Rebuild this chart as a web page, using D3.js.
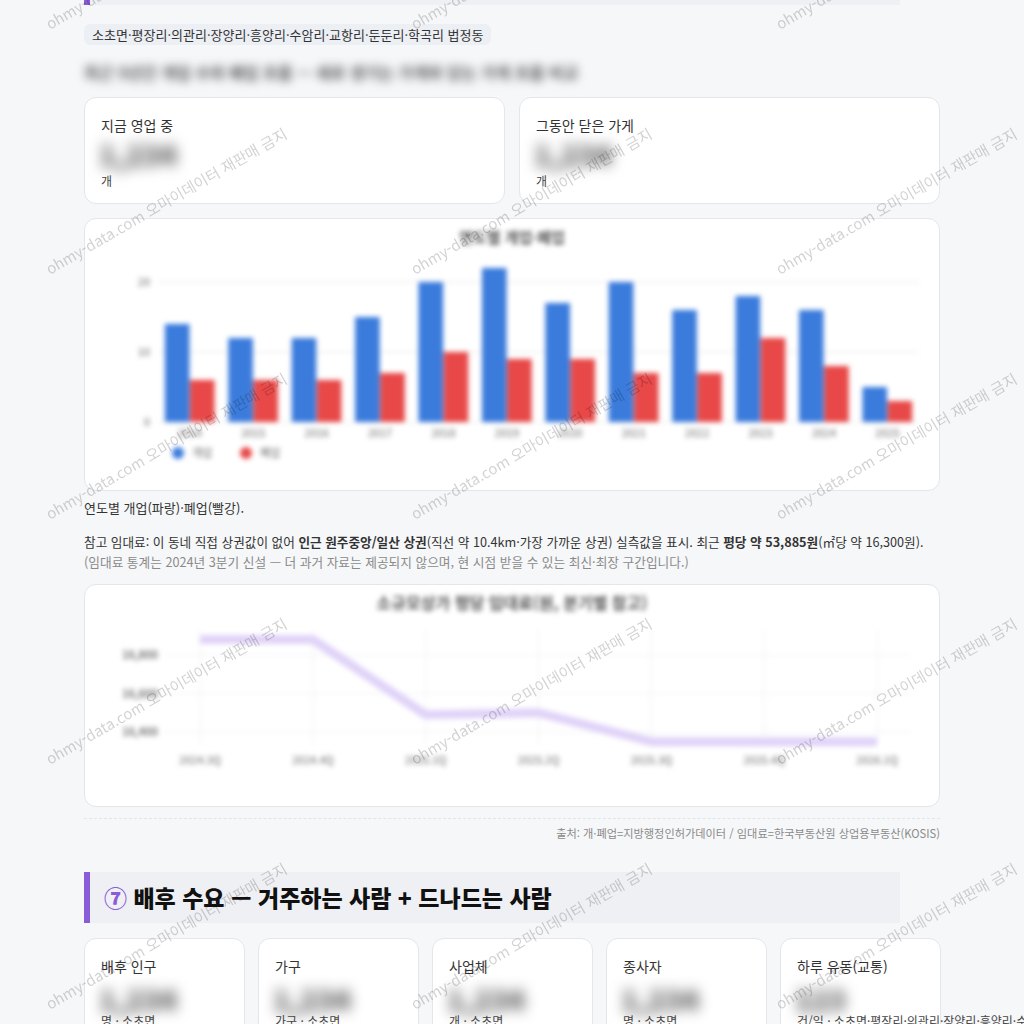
<!DOCTYPE html>
<html lang="ko">
<head>
<meta charset="utf-8">
<script src="https://cdn.jsdelivr.net/npm/d3@7"></script>
<style>
  body { margin: 0; width: 1024px; height: 1024px; overflow: hidden; background: #f6f7f9;
         font-family: "Noto Sans CJK KR", "Noto Sans", sans-serif; color: #333; position: relative; }
  .abs { position: absolute; }
  .card { position: absolute; background: #fff; border: 1px solid #e3e6eb; border-radius: 12px; box-sizing: border-box; }
  .lbl { position: absolute; font-size: 14px; color: #333; }
  .unit { position: absolute; font-size: 12px; color: #444; white-space: nowrap; }
  .big { position: absolute; font-size: 28px; font-weight: 800; color: #555; filter: blur(7px); }
</style>
</head>
<body>
<div id="page"></div>
<script>
// ---- data ----
const years = ["2014","2015","2016","2017","2018","2019","2020","2021","2022","2023","2024","2025"];
const opened = [14, 12, 12, 15, 20, 22, 17, 20, 16, 18, 16, 5];
const closed = [6, 6, 6, 7, 10, 9, 9, 7, 7, 12, 8, 3];
const barTicks = [0, 10, 20];

const quarters = ["2024.3Q","2024.4Q","2025.1Q","2025.2Q","2025.3Q","2025.4Q","2026.1Q"];
const rentPerM2 = [16880, 16880, 16490, 16500, 16350, 16350, 16350];
const rentTicks = [16400, 16600, 16800];

const dongs = "소초면·평장리·의관리·장양리·흥양리·수암리·교항리·둔둔리·학곡리 법정동";
const topCards = ["지금 영업 중", "그동안 닫은 가게"];
const demandCards = ["배후 인구", "가구", "사업체", "종사자", "하루 유동(교통)"];
const demandUnits = ["명 · 소초면", "가구 · 소초면", "개 · 소초면", "명 · 소초면",
                     "건/일 · 소초면·평장리·의관리·장양리·흥양리·수암리"];

const page = d3.select("#page");

// previous section heading remnant
page.append("div").attr("class", "abs")
  .style("left", "84px").style("top", "-40px").style("width", "810px").style("height", "45px")
  .style("background", "#eef0f4").style("border-left", "6px solid #8a5cd8");

page.append("div").attr("class", "abs")
  .style("left", "84px").style("top", "24px").style("padding", "0 8px").style("height", "21px")
  .style("line-height", "21px").style("background", "#eceff4").style("border-radius", "6px")
  .style("font-size", "13px").style("color", "#333").text(dongs);

page.append("div").attr("class", "abs")
  .style("left", "84px").style("top", "60px").style("font-size", "16px").style("font-weight", "700")
  .style("color", "#555").style("filter", "blur(5px)").style("white-space", "nowrap")
  .text("최근 5년간 개업 수와 폐업 흐름 — 새로 생기는 가게와 닫는 가게 흐름 비교");

// top cards
topCards.forEach((t, i) => {
  const c = page.append("div").attr("class", "card")
    .style("left", (84 + i * 435) + "px").style("top", "97px")
    .style("width", "421px").style("height", "107px");
  c.append("div").attr("class", "lbl").style("left", "16px").style("top", "17px").text(t);
  c.append("div").attr("class", "big").style("left", "14px").style("top", "36px").text("1,234");
  c.append("div").attr("class", "unit").style("left", "16px").style("top", "74px").text("개");
});

// ---- bar chart ----
const bc = page.append("div").attr("class", "card")
  .style("left", "84px").style("top", "218px").style("width", "856px").style("height", "273px");
const bsvg = bc.append("svg").attr("width", 856).attr("height", 273)
  .style("position", "absolute").style("left", "-1px").style("top", "-1px");
const bg = bsvg.append("g").attr("transform", "translate(-84,-218)").style("filter", "blur(2.5px)");

const x0 = d3.scaleBand().domain(years).range([158, 919]).paddingInner(0.2).paddingOuter(0.1);
const x1 = d3.scaleBand().domain(["o", "c"]).range([0, x0.bandwidth()]).padding(0.02);
const yb = d3.scaleLinear().domain([0, 20]).range([422, 282]);

bg.append("text").attr("x", 512).attr("y", 243).attr("text-anchor", "middle")
  .attr("font-size", 15).attr("font-weight", 700).attr("fill", "#555").text("연도별 개업·폐업");

bg.selectAll(".grid").data(barTicks).join("line")
  .attr("x1", 158).attr("x2", 919).attr("y1", d => yb(d)).attr("y2", d => yb(d))
  .attr("stroke", "#e8e8e8");
bg.selectAll(".ytk").data(barTicks).join("text")
  .attr("x", 150).attr("y", d => yb(d) + 4).attr("text-anchor", "end")
  .attr("font-size", 11).attr("fill", "#666").text(d => d);

const grp = bg.selectAll(".yr").data(years).join("g")
  .attr("transform", d => `translate(${x0(d)},0)`);
grp.append("rect").attr("x", x1("o")).attr("width", x1.bandwidth())
  .attr("y", (d, i) => yb(opened[i])).attr("height", (d, i) => yb(0) - yb(opened[i]))
  .attr("fill", "#3a7bdc");
grp.append("rect").attr("x", x1("c")).attr("width", x1.bandwidth())
  .attr("y", (d, i) => yb(closed[i])).attr("height", (d, i) => yb(0) - yb(closed[i]))
  .attr("fill", "#e84848");
grp.append("text").attr("x", x0.bandwidth() / 2).attr("y", 437).attr("text-anchor", "middle")
  .attr("font-size", 11).attr("fill", "#666").text(d => d);

const legend = [{k: "개업", c: "#3a7bdc", x: 178}, {k: "폐업", c: "#e84848", x: 246}];
legend.forEach(l => {
  bg.append("circle").attr("cx", l.x).attr("cy", 453).attr("r", 6).attr("fill", l.c);
  bg.append("text").attr("x", l.x + 14).attr("y", 457).attr("font-size", 11).attr("fill", "#666").text(l.k);
});

// captions
page.append("div").attr("class", "abs").style("left", "84px").style("top", "498px")
  .style("font-size", "13px").text("연도별 개업(파랑)·폐업(빨강).");
page.append("div").attr("class", "abs").style("left", "84px").style("top", "532px")
  .style("font-size", "12.65px").style("white-space", "nowrap")
  .html("참고 임대료: 이 동네 직접 상권값이 없어 <b>인근 원주중앙/일산 상권</b>(직선 약 10.4km·가장 가까운 상권) 실측값을 표시. 최근 <b>평당 약 53,885원</b>(㎡당 약 16,300원).");
page.append("div").attr("class", "abs").style("left", "84px").style("top", "552px")
  .style("font-size", "12.7px").style("color", "#8a8a8a").style("white-space", "nowrap")
  .text("(임대료 통계는 2024년 3분기 신설 — 더 과거 자료는 제공되지 않으며, 현 시점 받을 수 있는 최신·최장 구간입니다.)");

// ---- line chart ----
const lc = page.append("div").attr("class", "card")
  .style("left", "84px").style("top", "584px").style("width", "856px").style("height", "223px");
const lsvg = lc.append("svg").attr("width", 856).attr("height", 223)
  .style("position", "absolute").style("left", "-1px").style("top", "-1px");
const lg = lsvg.append("g").attr("transform", "translate(-84,-584)").style("filter", "blur(2.5px)");

const xl = d3.scalePoint().domain(quarters).range([200, 877]);
const yl = d3.scaleLinear().domain([16400, 16800]).range([732, 655]);

lg.append("text").attr("x", 512).attr("y", 609).attr("text-anchor", "middle")
  .attr("font-size", 16).attr("font-weight", 700).attr("fill", "#555")
  .text("소규모상가 평당 임대료(원, 분기별 참고)");

lg.selectAll(".vg").data(quarters).join("line")
  .attr("x1", d => xl(d)).attr("x2", d => xl(d)).attr("y1", 630).attr("y2", 745)
  .attr("stroke", "#f0f0f0");
lg.selectAll(".hg").data(rentTicks).join("line")
  .attr("x1", 165).attr("x2", 910).attr("y1", d => yl(d)).attr("y2", d => yl(d))
  .attr("stroke", "#f0f0f0");
lg.selectAll(".yt").data(rentTicks).join("text")
  .attr("x", 158).attr("y", d => yl(d) + 4).attr("text-anchor", "end")
  .attr("font-size", 11).attr("font-weight", 700).attr("fill", "#777").text(d => d3.format(",")(d));
lg.selectAll(".xt").data(quarters).join("text")
  .attr("x", d => xl(d)).attr("y", 764).attr("text-anchor", "middle")
  .attr("font-size", 11).attr("fill", "#666").text(d => d);

lg.append("path").datum(rentPerM2)
  .attr("d", d3.line().x((d, i) => xl(quarters[i])).y(d => yl(d)))
  .attr("fill", "none").attr("stroke", "#e0d3f8").attr("stroke-width", 9)
  .attr("stroke-linejoin", "round");

// source line
page.append("div").attr("class", "abs").style("left", "84px").style("top", "818px")
  .style("width", "856px").style("border-top", "1px dashed #e2e4e8");
page.append("div").attr("class", "abs").style("right", "84px").style("top", "825px")
  .style("font-size", "11.2px").style("color", "#8a8a8a")
  .text("출처: 개·폐업=지방행정인허가데이터 / 임대료=한국부동산원 상업용부동산(KOSIS)");

// section heading
const h = page.append("div").attr("class", "abs")
  .style("left", "84px").style("top", "872px").style("width", "796px").style("height", "51px")
  .style("background", "#eef0f4").style("border-left", "6px solid #8a5cd8")
  .style("font-size", "23px").style("font-weight", "800").style("color", "#111")
  .style("line-height", "51px").style("padding-left", "14px").style("white-space", "nowrap");
h.append("span").style("color", "#8a5cd8").text("⑦ ");
h.append("span").text("배후 수요 — 거주하는 사람 + 드나드는 사람");

// demand cards
demandCards.forEach((t, i) => {
  const c = page.append("div").attr("class", "card")
    .style("left", (84 + i * 174) + "px").style("top", "938px")
    .style("width", "161px").style("height", "120px");
  c.append("div").attr("class", "lbl").style("left", "16px").style("top", "17px").text(t);
  c.append("div").attr("class", "big").style("left", "14px").style("top", "40px")
    .text(i === 4 ? "123" : "1,234");
  c.append("div").attr("class", "unit").style("left", "16px").style("top", "73px").text(demandUnits[i]);
});

// watermark overlay
const wm = d3.select("body").append("svg").attr("width", 1024).attr("height", 1024)
  .style("position", "absolute").style("left", 0).style("top", 0).style("pointer-events", "none");
const wx = [50, 415, 780], wy = [30, 275, 520, 765, 1010];
wx.forEach(x => wy.forEach(y => {
  wm.append("text").attr("transform", `translate(${x},${y}) rotate(-30)`)
    .attr("font-size", 15).attr("fill", "rgba(0,0,0,0.18)")
    .text("ohmy-data.com 오마이데이터 재판매 금지");
}));
</script>
</body>
</html>
